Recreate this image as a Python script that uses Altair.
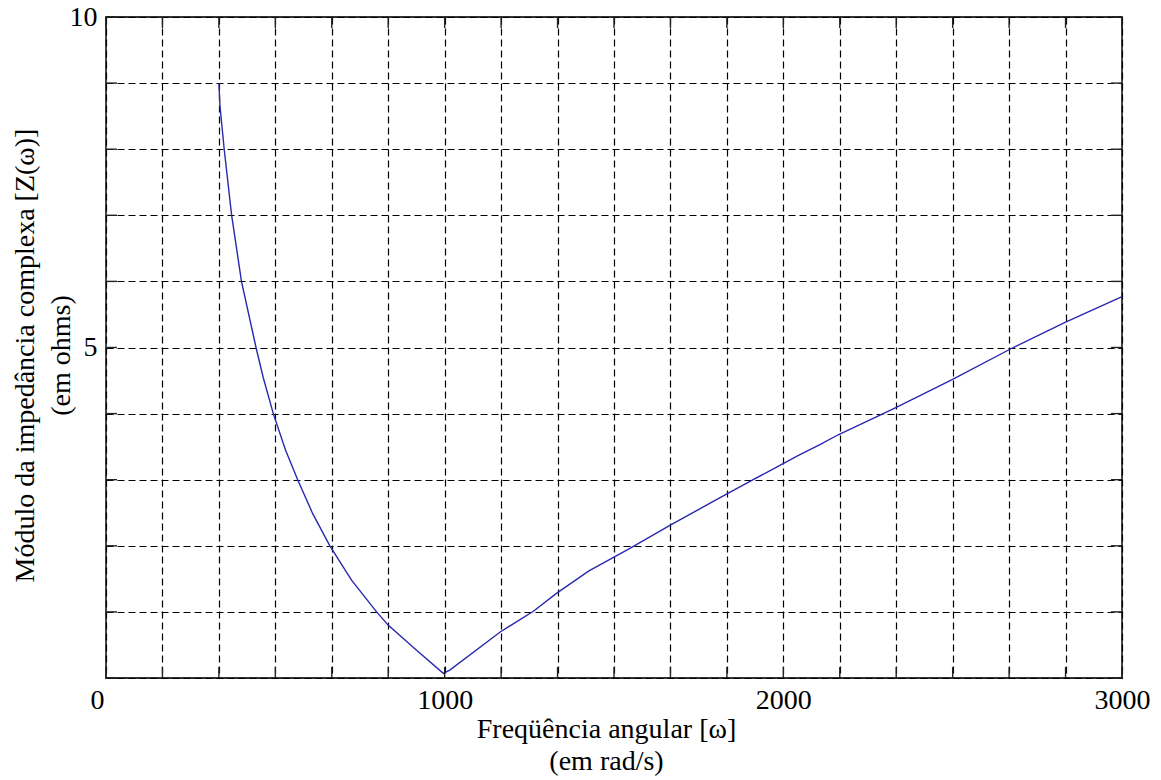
import altair as alt
import pandas as pd

# Curve: angular frequency (rad/s) and |Z| (ohms)
omega = [333.3, 336.6, 349, 371, 400, 443, 464, 494, 530, 566, 610, 661, 725, 799,
         833, 917, 996, 1015, 1165, 1262, 1330, 1426, 1500, 1547, 1665, 1828, 1911,
         1998, 2049, 2108, 2162, 2295, 2332, 2497, 2679, 2832, 3000]
modZ = [9.0, 8.65, 8.0, 7.0, 6.0, 5.0, 4.55, 4.0, 3.45, 3.0, 2.49, 2.0, 1.48, 1.0,
        0.80, 0.42, 0.07, 0.12, 0.70, 1.01, 1.28, 1.62, 1.83, 1.96, 2.31, 2.77, 3.0,
        3.24, 3.38, 3.53, 3.68, 4.0, 4.09, 4.51, 5.0, 5.38, 5.77]

# grid / tick positions
x_grid = [i * 3000 / 18 for i in range(19)]
y_grid = list(range(0, 11))
x_labels = [0, 1000, 2000, 3000]
y_labels = [5, 10]

W, H = 1016, 661
FONT = "Liberation Serif"
TICK = 11

curve = pd.DataFrame({"omega": omega, "Z": modZ})
xt = pd.DataFrame({"omega": x_grid})
yt = pd.DataFrame({"Z": y_grid})

xscale = alt.Scale(domain=[0, 3000], nice=False, zero=False)
yscale = alt.Scale(domain=[0, 10], nice=False, zero=False)

x_label_test = " || ".join(f"datum.value == {v}" for v in x_labels)
y_label_test = " || ".join(f"datum.value == {v}" for v in y_labels)

xaxis = alt.Axis(
    values=x_grid,
    grid=True, gridDash=[7, 4], gridColor="black", gridOpacity=1, gridWidth=1.2,
    ticks=False, domain=False,
    labelExpr=f"({x_label_test}) ? format(datum.value, 'd') : ''",
    labelFont=FONT, labelFontSize=28, labelColor="black", labelPadding=8,
    labelOffset={"condition": {"test": "datum.value == 0", "value": -9}, "value": 0},
    labelFlush=False, labelOverlap=False,
    title=["Freqüência angular [ω]", "(em rad/s)"],
    titleFont=FONT, titleFontSize=28, titleFontWeight="normal", titleColor="black",
    titleLineHeight=32, titleBaseline="middle", titleAlign="center",
    titleX=500, titleY=51, titleAnchor="middle",
)
yaxis = alt.Axis(
    values=y_grid,
    grid=True, gridDash=[7, 4], gridColor="black", gridOpacity=1, gridWidth=1.2,
    ticks=False, domain=False,
    labelExpr=f"({y_label_test}) ? format(datum.value, 'd') : ''",
    labelFont=FONT, labelFontSize=28, labelColor="black", labelPadding=9,
    labelFlush=False, labelOverlap=False,
    title=["Módulo da impedância complexa [Z(ω)]", "(em ohms)"],
    titleFont=FONT, titleFontSize=28, titleFontWeight="normal", titleColor="black",
    titleLineHeight=36, titleBaseline="middle", titleAlign="center",
    titleAngle=270, titleX=-81, titleY=338,
)

line = alt.Chart(curve).mark_line(color="#2828b0", strokeWidth=1.4).encode(
    x=alt.X("omega:Q", scale=xscale, axis=xaxis),
    y=alt.Y("Z:Q", scale=yscale, axis=yaxis),
)

tick_color = "#222222"
xt_bottom = alt.Chart(xt).mark_rule(color=tick_color, strokeWidth=1.4).encode(
    x=alt.X("omega:Q", scale=xscale), y=alt.value(H - TICK), y2=alt.value(H))
xt_top = alt.Chart(xt).mark_rule(color=tick_color, strokeWidth=1.4).encode(
    x=alt.X("omega:Q", scale=xscale), y=alt.value(0), y2=alt.value(TICK))
yt_left = alt.Chart(yt).mark_rule(color=tick_color, strokeWidth=1.4).encode(
    y=alt.Y("Z:Q", scale=yscale), x=alt.value(0), x2=alt.value(TICK))
yt_right = alt.Chart(yt).mark_rule(color=tick_color, strokeWidth=1.4).encode(
    y=alt.Y("Z:Q", scale=yscale), x=alt.value(W - TICK), x2=alt.value(W))

chart = alt.layer(line, xt_bottom, xt_top, yt_left, yt_right).properties(
    width=W, height=H,
    autosize=alt.AutoSizeParams(type="none"),
    padding={"left": 106, "top": 17, "right": 39, "bottom": 102},
    background="white",
).configure_view(stroke="#333333", strokeWidth=1.8)

chart.save("out.html", embed_options={"renderer": "svg", "actions": False})
